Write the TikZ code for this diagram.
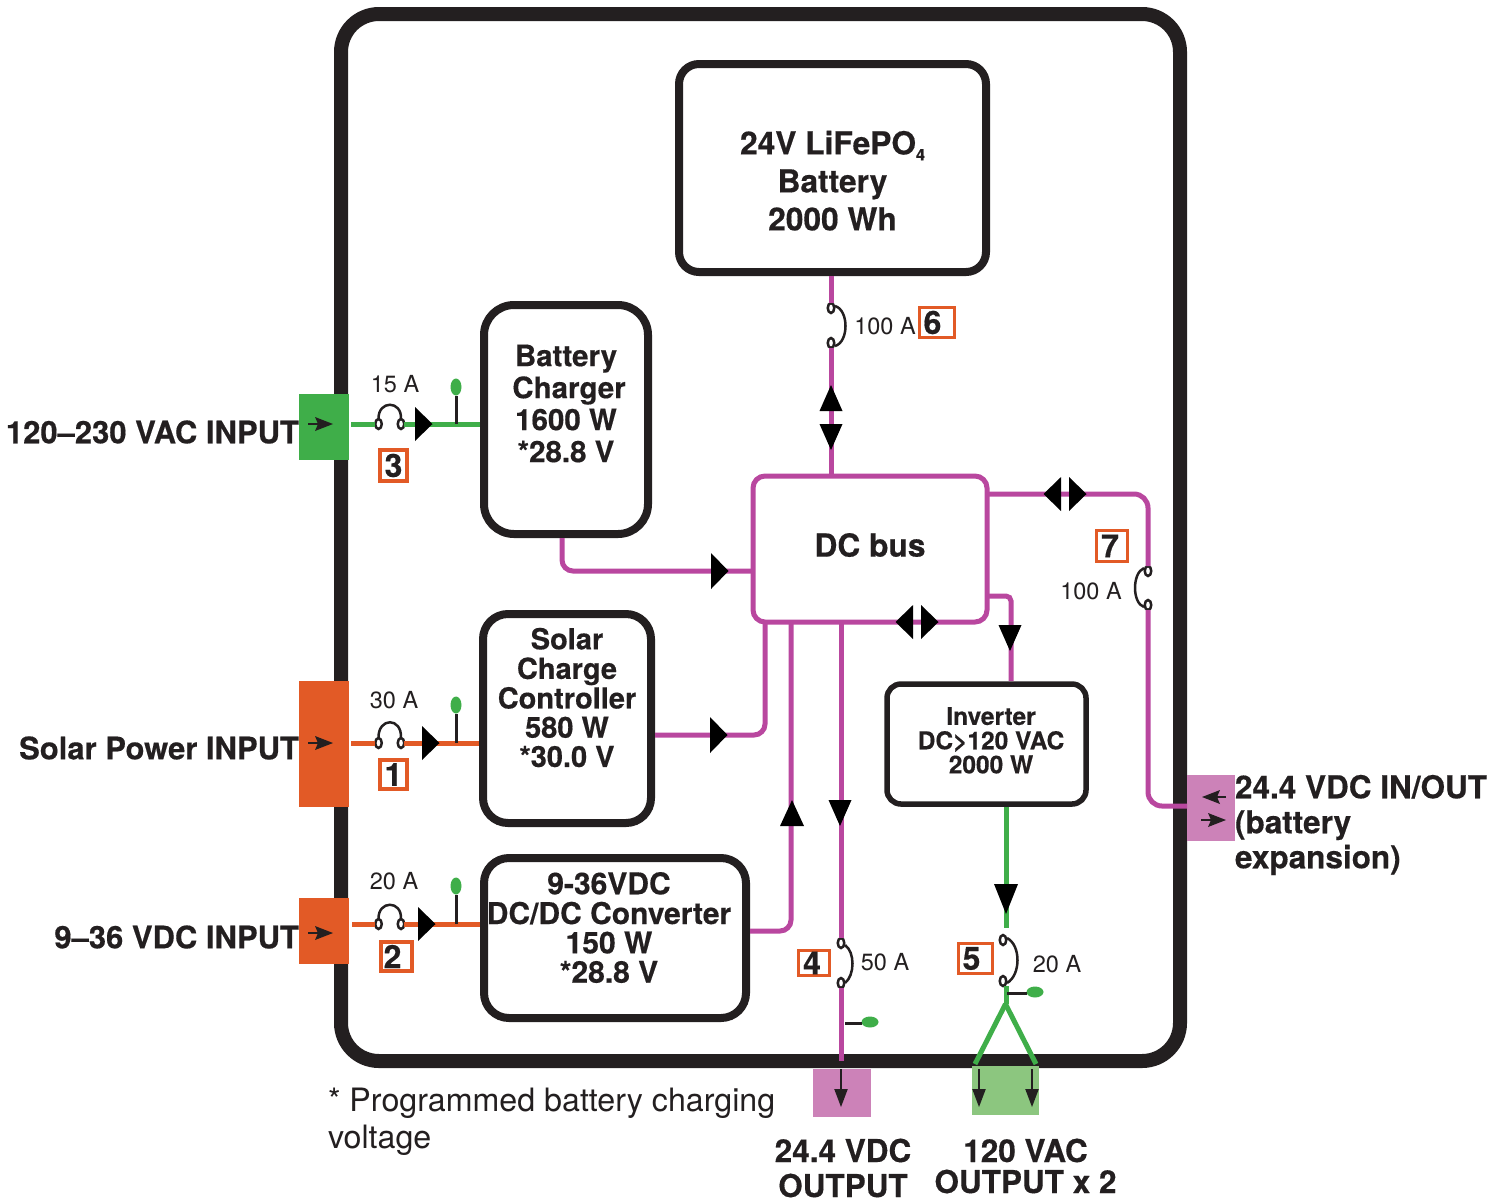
\documentclass[tikz,border=0pt]{standalone}
\usepackage{fontspec}
\setmainfont{TeX Gyre Heros}[BoldFeatures={FakeBold=0.4}]
\usetikzlibrary{shapes.geometric}
\definecolor{ink}{HTML}{231F20}
\definecolor{grn}{HTML}{3FAE49}
\definecolor{org}{HTML}{E25A26}
\definecolor{pnk}{HTML}{CC82B8}
\definecolor{lgrn}{HTML}{8CC67F}
\definecolor{mag}{HTML}{B9479F}
\newcommand{\fs}[2]{\fontsize{#1}{#2}\selectfont}
% #1 doubled x shift, #2 y shift, #3 rows
\newcommand{\boxtext}[3]{\raisebox{#2}[0pt][0pt]{\makebox[0pt][c]{\hspace*{#1}\begin{tabular}{@{}c@{}}#3\end{tabular}}}}
\tikzset{
  x=1pt,y=-1pt,
  every node/.style={inner sep=0pt,outer sep=0pt,text=ink},
  bx/.style={draw=ink,fill=white,line width=8pt,align=center,font=\bfseries},
  bxthin/.style={draw=ink,fill=white,line width=5.5pt,align=center,font=\bfseries},
  term/.style={rectangle},
  magw/.style={draw=mag,line width=5pt},
  grnw/.style={draw=grn,line width=5pt},
  orgw/.style={draw=org,line width=5pt},
  tick/.style={draw=ink,line width=3pt},
  fuse/.style={ellipse,draw=ink,fill=white,line width=2.5pt,minimum width=6.5pt,minimum height=10pt},
  led/.style={ellipse,fill=grn,minimum width=#1},
  fusearc/.style={draw=ink,line width=2.5pt},
  badge/.style={draw=org,fill=white,line width=3.5pt,font=\bfseries\fs{32}{32}},
  amp/.style={font=\fs{23.5}{26}},
  lab/.style={font=\bfseries\fs{31}{35},align=left},
  shaft/.style={draw=ink,line width=2.8pt},
}
\newcommand{\triR}[3]{\fill[black] (#1,#2-#3) -- (#1+17.5,#2) -- (#1,#2+#3) -- cycle;}
\newcommand{\triL}[3]{\fill[black] (#1,#2-#3) -- (#1-17.5,#2) -- (#1,#2+#3) -- cycle;}
\newcommand{\triU}[3]{\fill[black] (#1-#3,#2) -- (#1,#2-26) -- (#1+#3,#2) -- cycle;}
\newcommand{\triD}[3]{\fill[black] (#1-#3,#2) -- (#1,#2+26) -- (#1+#3,#2) -- cycle;}
% small arrows inside the terminals: x start, x tip, y
\newcommand{\arrR}[3]{\draw[shaft] (#1,#3) -- (#2-10,#3); \fill[ink] (#2-18,#3-7) -- (#2,#3) -- (#2-18,#3+7) -- (#2-15,#3) -- cycle;}
\newcommand{\arrL}[3]{\draw[shaft] (#1,#3) -- (#2+10,#3); \fill[ink] (#2+18,#3-7) -- (#2,#3) -- (#2+18,#3+7) -- (#2+15,#3) -- cycle;}
\newcommand{\arrD}[3]{\draw[shaft] (#1,#2) -- (#1,#3-10); \fill[ink] (#1-6.8,#3-18) -- (#1,#3) -- (#1+6.8,#3-18) -- cycle;}
\begin{document}
\begin{tikzpicture}
\useasboundingbox (0,0) rectangle (1506,1203);
% enclosure
\node[draw=ink,line width=14pt,rounded corners=38pt,minimum width=839pt,minimum height=1047pt] (case) at (760.5,537.5) {};
% boxes
\node[bx,rounded corners=20pt,minimum width=307pt,minimum height=208pt,font=\bfseries\fs{31.7}{38}] (bat) at (832.5,168) {\boxtext{0pt}{-23pt}{24V LiFePO\raisebox{-6pt}{\fs{16}{16}4}\\Battery\\2000 Wh}};
\node[bx,rounded corners=30pt,minimum width=164pt,minimum height=229pt,font=\bfseries\fs{29.5}{32}] (chg) at (566,419.5) {\boxtext{0pt}{5.5pt}{Battery\\\hspace*{6pt}Charger\\1600 W\\{}*28.8 V}};
\node[bx,rounded corners=25pt,minimum width=168pt,minimum height=209pt,font=\bfseries\fs{29}{29.3}] (sol) at (567,718.5) {\boxtext{0pt}{10.5pt}{Solar\\[-0.7pt]Charge\\[-0.7pt]Controller\\[-0.7pt]580 W\\[-0.7pt]{}*30.0 V}};
\node[bx,rounded corners=25pt,minimum width=262pt,minimum height=160pt,font=\bfseries\fs{30}{29.3}] (dcd) at (615,938) {\boxtext{-12pt}{0pt}{9-36VDC\\[-1.3pt]DC/DC Converter\\[-1.3pt]150 W\\[-1.3pt]{}*28.8 V}};
\node[bxthin,draw=mag,line width=5pt,rounded corners=12pt,minimum width=234pt,minimum height=146pt,font=\bfseries\fs{31.7}{34}] (bus) at (870,549) {\boxtext{0pt}{-7pt}{DC bus}};
\node[bxthin,rounded corners=14pt,minimum width=199pt,minimum height=120pt,font=\bfseries\fs{24.5}{24}] (inv) at (986.5,744) {\boxtext{9pt}{-6pt}{Inverter\\[-1pt]DC>120 VAC\\[-1pt]2000 W}};
% terminals
\node[term,fill=grn,minimum width=50pt,minimum height=66pt] (tac) at (324,427) {};
\node[term,fill=org,minimum width=50pt,minimum height=126pt] (tsol) at (324,744) {};
\node[term,fill=org,minimum width=50pt,minimum height=66pt] (tdc) at (324,931) {};
\node[term,fill=pnk,minimum width=58pt,minimum height=48pt] (tout) at (842,1093) {};
\node[term,fill=lgrn,minimum width=67pt,minimum height=49pt] (tvac) at (1005.5,1090.5) {};
\node[term,fill=pnk,minimum width=48pt,minimum height=66pt] (texp) at (1211,808) {};
% fuses
\node[fuse] (f3a) at (378.5,424) {}; \node[fuse] (f3b) at (401,424) {};
\node[fuse] (f1a) at (378.5,743) {}; \node[fuse] (f1b) at (401,743) {};
\node[fuse] (f2a) at (378.5,924) {}; \node[fuse] (f2b) at (401,924) {};
\node[fuse] (f6a) at (831,308) {}; \node[fuse] (f6b) at (831,343) {};
\node[fuse] (f7a) at (1148,571) {}; \node[fuse] (f7b) at (1148,605) {};
\node[fuse] (f4a) at (841,943) {}; \node[fuse] (f4b) at (841,983) {};
\node[fuse] (f5a) at (1003,940) {}; \node[fuse] (f5b) at (1003,981) {};
% LEDs
\node[led=11pt,minimum height=17pt] (l3) at (456,387) {};
\node[led=11pt,minimum height=17pt] (l1) at (456,705) {};
\node[led=11pt,minimum height=17pt] (l2) at (456,886) {};
\node[led=17pt,minimum height=11pt] (l4) at (870,1022) {};
\node[led=17pt,minimum height=11pt] (l5) at (1035,992) {};
% free ends
\coordinate (yj) at (1005.5,1004);
\coordinate (yl) at (975,1064);
\coordinate (yr) at (1036,1064);
\coordinate (t4) at (845,1023);
\coordinate (t5) at (1007,993);
% connectors
\draw[grnw,shorten <=2pt] (tac.east |- f3a) -- (f3a);
\draw[grnw,shorten >=4pt] (f3b) -- (chg.west |- f3b);
\draw[orgw,shorten <=2pt] (tsol.east |- f1a) -- (f1a);
\draw[orgw,shorten >=4pt] (f1b) -- (sol.west |- f1b);
\draw[orgw,shorten <=3pt] (tdc.east |- f2a) -- (f2a);
\draw[orgw,shorten >=4pt] (f2b) -- (dcd.west |- f2b);
\draw[magw,shorten <=4pt] (f6a |- bat.south) -- (f6a.north);
\draw[magw] (f6b.south) -- (f6b |- bus.north);
\draw[magw,rounded corners=11pt,shorten <=4pt] ([xshift=-4pt]chg.south) |- ([yshift=-22pt]bus.west);
\draw[magw,rounded corners=11pt,shorten <=4pt] ([yshift=-16.5pt]sol.east) -| ([xshift=-105pt]bus.south);
\draw[magw,rounded corners=11pt,shorten <=4pt] ([yshift=7pt]dcd.east) -| ([xshift=-79pt]bus.south);
\draw[magw] (f4a |- bus.south) -- (f4a.north);
\draw[magw] (f4b.south) -- (f4b |- case.south);
\draw[magw,rounded corners=5pt,shorten >=3pt] ([yshift=-47pt]bus.east) -| ([xshift=24.5pt]inv.north);
\draw[magw,rounded corners=14pt] ([yshift=55pt]bus.east) -| (f7a.north);
\draw[magw,rounded corners=14pt] (f7b.south) |- ([yshift=2pt]texp.west);
\draw[grnw,shorten <=3pt] ([xshift=19.5pt]inv.south) -- ([xshift=3pt,yshift=7pt]f5a.north);
\draw[grnw] ([xshift=3pt]f5b.south) -- ([xshift=3pt,yshift=-18pt]f5b.south);
\draw[grnw] (yj) -- (yl);
\draw[grnw] (yj) -- (yr);
% LED ticks
\draw[tick] (l3) -- (l3 |- f3a);
\draw[tick] (l1) -- (l1 |- f1a);
\draw[tick] (l2) -- (l2 |- f2a);
\draw[tick] (t4) -- (l4.west |- t4);
\draw[tick] (t5) -- (l5.west |- t5);
% fuse arcs
\draw[fusearc] (f3a.north) .. controls (378,400) and (402,400) .. (f3b.north);
\draw[fusearc] (f1a.north) .. controls (378,717) and (402,717) .. (f1b.north);
\draw[fusearc] (f2a.north) .. controls (378,900) and (402,900) .. (f2b.north);
\draw[fusearc] (835,306) .. controls (849,310) and (849,342) .. (835,346);
\draw[fusearc] (1144,568) .. controls (1132,573) and (1132,603) .. (1144,607);
\draw[fusearc] (845,945) .. controls (855,952) and (855,975) .. (845,983);
\draw[fusearc] (1007,938) .. controls (1021,945) and (1021,975) .. (1007,983);
% arrowheads
\triR{415}{424}{17}
\triR{422}{743}{17}
\triR{418}{924}{17}
\triR{711}{571}{18}
\triR{710}{735}{18}
\triL{1061}{494}{17}
\triR{1069}{494}{17}
\triL{913}{622}{17}
\triR{921}{622}{17}
\triU{831}{411}{11.5}
\triD{831}{424}{11.5}
\triU{792}{826}{12}
\triD{840}{800}{11.5}
\triD{1010}{625}{11.5}
\fill[black] (994,884) -- (1006,914) -- (1018,884) -- cycle;
% terminal arrows
\arrR{308}{333}{424}
\arrR{308}{333}{743}
\arrR{308}{333}{933}
\arrL{1226}{1202}{797}
\arrR{1201}{1226}{820}
\arrD{841}{1069}{1107}
\arrD{979}{1069}{1107}
\arrD{1032}{1069}{1107}
% amps
\node[amp] (a3) at (395,384) {15 A};
\node[amp] (a1) at (394,700) {30 A};
\node[amp] (a2) at (394,881) {20 A};
\node[amp] (a6) at (885,326) {100 A};
\node[amp] (a7) at (1091,591) {100 A};
\node[amp] (a4) at (885,962) {50 A};
\node[amp] (a5) at (1057,964) {20 A};
% badges
\node[badge,minimum width=27pt,minimum height=31pt] (b3) at (393.5,465.5) {3};
\node[badge,minimum width=27pt,minimum height=29pt] (b1) at (393.5,774.5) {1};
\node[badge,minimum width=31pt,minimum height=29pt] (b2) at (396.5,956.5) {\hspace{-8pt}2};
\node[badge,minimum width=31pt,minimum height=25pt] (b4) at (814,963) {\hspace{-4pt}4};
\node[badge,minimum width=34pt,minimum height=30pt] (b5) at (975.5,958.5) {\hspace{-8pt}5};
\node[badge,minimum width=35pt,minimum height=30pt] (b6) at (937,322.5) {\hspace{-9pt}6};
\node[badge,minimum width=31pt,minimum height=31pt] (b7) at (1112,546) {\hspace{-4pt}7};
% outside labels
\node[lab,anchor=east] (li1) at (299,432) {120–230 VAC INPUT};
\node[lab,anchor=east] (li2) at (299,748) {Solar Power INPUT};
\node[lab,anchor=east] (li3) at (299,937) {9–36 VDC INPUT};
\node[lab,anchor=west,font=\bfseries\fs{31.5}{35}] (li4) at (1235,825) {24.4 VDC IN/OUT\\(battery\\expansion)};
\node[font=\bfseries\fs{31.5}{35},align=center] (lo1) at (843,1168) {24.4 VDC\\OUTPUT};
\node[font=\bfseries\fs{31.5}{31},align=center] (lo2) at (1025.5,1166) {120 VAC\\OUTPUT x 2};
\node[font=\fs{32.2}{37},align=left,anchor=west] (note) at (328,1122) {* Programmed battery charging\\voltage};
\end{tikzpicture}
\end{document}
